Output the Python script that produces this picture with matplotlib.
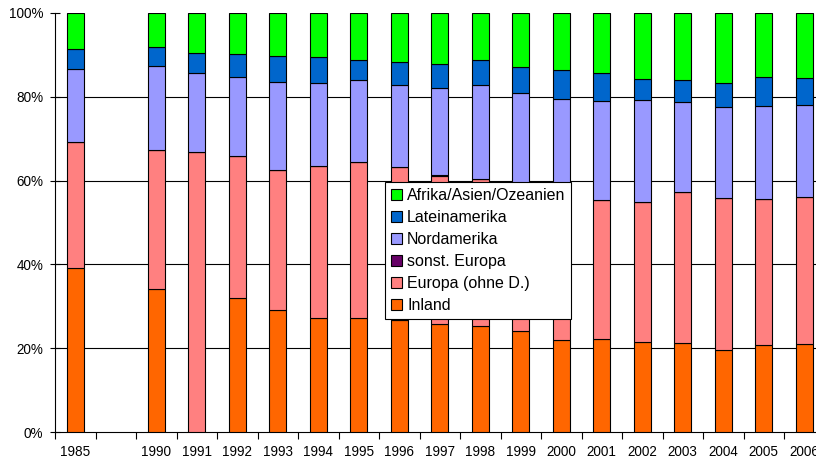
import numpy as np
import matplotlib
matplotlib.use("Agg")
import matplotlib.pyplot as plt

plt.rcParams["font.family"] = ["Liberation Sans", "DejaVu Sans"]
plt.rcParams["font.size"] = 9.75

# ------------------------------------------------------------
# data (percent shares per year)
# the empty string is the gap slot between 1985 and 1990
# ------------------------------------------------------------
categories = ["1985", "", "1990", "1991", "1992", "1993", "1994", "1995",
              "1996", "1997", "1998", "1999", "2000", "2001", "2002",
              "2003", "2004", "2005", "2006"]

inland = [39.2, np.nan, 34.2, 0.0, 32.0, 29.1, 27.3, 27.2, 26.8, 25.8,
          25.3, 24.2, 21.9, 22.2, 21.5, 21.2, 19.6, 20.7, 21.0]
europa = [29.9, np.nan, 33.1, 66.8, 33.9, 33.4, 36.2, 37.2, 36.4, 35.3,
          35.1, 33.8, 35.1, 33.1, 33.5, 36.1, 36.2, 34.9, 35.1]
sonst_europa = [0.0, np.nan, 0.0, 0.0, 0.0, 0.0, 0.0, 0.0, 0.0, 0.3,
                0.0, 0.0, 0.0, 0.0, 0.0, 0.0, 0.0, 0.0, 0.0]
nordamerika = [17.6, np.nan, 20.0, 18.8, 18.8, 21.0, 19.7, 19.5, 19.5, 20.6,
               22.5, 22.8, 22.4, 23.6, 24.2, 21.4, 21.8, 22.2, 21.9]
lateinamerika = [4.8, np.nan, 4.5, 4.8, 5.4, 6.2, 6.2, 5.0, 5.7, 5.9,
                 6.0, 6.3, 6.9, 6.7, 5.1, 5.3, 5.6, 6.9, 6.5]
afrika = [8.5, np.nan, 8.2, 9.6, 9.9, 10.3, 10.6, 11.1, 11.6, 12.1,
          11.1, 12.9, 13.7, 14.4, 15.7, 16.0, 16.8, 15.3, 15.5]

series_names = ["Inland", "Europa (ohne D.)", "sonst. Europa",
                "Nordamerika", "Lateinamerika", "Afrika/Asien/Ozeanien"]
series_values = [inland, europa, sonst_europa, nordamerika, lateinamerika, afrika]
series_colors = ["#FF6600", "#FF8080", "#660066", "#9999FF", "#0066CC", "#00FF00"]

y_ticks = [0, 20, 40, 60, 80, 100]


def main():
    fig = plt.figure(figsize=(8.16, 4.62), dpi=100)
    # plot area runs a little past the right edge, as in the original
    ax = fig.add_axes([55 / 816, 30 / 462, 769.5 / 816, 419 / 462])

    x = np.arange(len(categories))
    vals = np.array(series_values, dtype=float)
    keep = ~np.isnan(vals[0])
    # normalise each column to 100 %
    vals = vals / np.nansum(vals, axis=0) * 100.0

    bottom = np.zeros(len(categories))
    handles = []
    for name, row, color in zip(series_names, vals, series_colors):
        h = ax.bar(x[keep], row[keep], bottom=bottom[keep], width=0.41,
                   color=color, edgecolor="black", linewidth=0.8,
                   label=name, zorder=3)
        handles.append(h)
        bottom = bottom + np.nan_to_num(row)

    ax.set_xlim(-0.5, len(categories) - 0.5)
    ax.set_ylim(0, 100)

    # gridlines (not at 0 / 100)
    for yv in y_ticks[1:-1]:
        ax.axhline(yv, color="black", linewidth=0.8, zorder=1)

    ax.set_yticks(y_ticks)
    ax.set_yticklabels([f"{v}%" for v in y_ticks])
    ax.tick_params(axis="y", direction="inout", length=7, width=0.8, pad=5,
                   labelsize=9.75)

    # ticks between categories, labels centred on the bars
    ax.set_xticks(np.arange(len(categories) + 1) - 0.5)
    ax.set_xticklabels([])
    ax.set_xticks(x, minor=True)
    ax.set_xticklabels(categories, minor=True)
    ax.tick_params(axis="x", which="major", direction="out", length=5, width=0.8)
    ax.tick_params(axis="x", which="minor", length=0, pad=9, labelsize=9.75)

    for side in ["top", "right"]:
        ax.spines[side].set_visible(False)
    for side in ["left", "bottom"]:
        ax.spines[side].set_linewidth(0.8)

    leg = ax.legend(handles[::-1], series_names[::-1],
                    loc="upper left",
                    bbox_to_anchor=((385 - 55) / 769.5, (432 - 182) / 419),
                    borderaxespad=0, fontsize=11.5, frameon=True,
                    fancybox=False, framealpha=1, edgecolor="black",
                    handlelength=0.7, handleheight=0.7, handletextpad=0.3,
                    labelspacing=0.44, borderpad=0.38)
    leg.get_frame().set_linewidth(0.8)
    leg.set_zorder(5)

    fig.savefig("out.png", dpi=100)
    plt.close(fig)


if __name__ == "__main__":
    main()
